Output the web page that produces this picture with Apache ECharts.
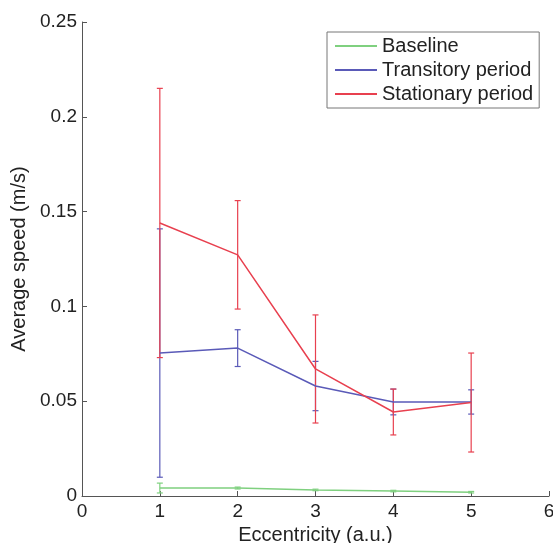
<!DOCTYPE html>
<html><head><meta charset="utf-8">
<script src="https://cdn.jsdelivr.net/npm/echarts@6/dist/echarts.min.js"></script>
<style>html,body{margin:0;padding:0;background:#fff}#c{width:553px;height:543px}</style>
</head><body><div id="c"></div>
<script>
const eccentricity = [1, 2, 3, 4, 5];
const baselineMean = [0.0042, 0.0042, 0.0032, 0.0026, 0.0020];
const baselineErr  = [0.0026, 0.0005, 0.0004, 0.0004, 0.0004];
const transitoryMean = [0.0754, 0.0780, 0.0580, 0.0496, 0.0496];
const transitoryErr  = [0.0655, 0.0097, 0.0130, 0.0068, 0.0064];
const stationaryMean = [0.1440, 0.1272, 0.0670, 0.0443, 0.0493];
const stationaryErr  = [0.0710, 0.0286, 0.0285, 0.0121, 0.0261];
const xTicks = [0, 1, 2, 3, 4, 5, 6];
const yTicks = [0, 0.05, 0.1, 0.15, 0.2, 0.25];

const COLORS = { base: '#7fd07f', trans: '#5a5ab8', stat: '#e8404f' };
const font = 'Liberation Sans, Arial, Helvetica, sans-serif';

function lineData(mean) { return eccentricity.map((x, i) => [x, mean[i]]); }
function errData(mean, err) { return eccentricity.map((x, i) => [x, mean[i] - err[i], mean[i] + err[i]]); }

function errSeries(name, mean, err, color) {
  return {
    type: 'custom', name: name + ' err', silent: true,
    data: errData(mean, err),
    encode: { x: 0, y: [1, 2] },
    renderItem: function (params, api) {
      const x = api.value(0);
      const lo = api.coord([x, api.value(1)]);
      const hi = api.coord([x, api.value(2)]);
      const hw = 3;
      const style = { stroke: color, lineWidth: 1.2, fill: null };
      return {
        type: 'group', children: [
          { type: 'line', shape: { x1: lo[0], y1: lo[1], x2: hi[0], y2: hi[1] }, style: style },
          { type: 'line', shape: { x1: lo[0] - hw, y1: lo[1], x2: lo[0] + hw, y2: lo[1] }, style: style },
          { type: 'line', shape: { x1: hi[0] - hw, y1: hi[1], x2: hi[0] + hw, y2: hi[1] }, style: style }
        ]
      };
    }
  };
}
function lineSeries(name, mean, color) {
  return {
    type: 'line', name: name, data: lineData(mean), symbol: 'none',
    lineStyle: { color: color, width: 1.5 }, itemStyle: { color: color }
  };
}

const chart = echarts.init(document.getElementById('c'));
chart.setOption({
  animation: false,
  backgroundColor: '#fff',
  grid: { left: 82, right: 4, top: 22, bottom: 47, containLabel: false, outerBoundsMode: 'none' },
  legend: {
    orient: 'vertical', left: 327, top: 32,
    data: [
      { name: 'Baseline', icon: 'rect' },
      { name: 'Transitory period', icon: 'rect' },
      { name: 'Stationary period', icon: 'rect' }
    ],
    itemWidth: 42, itemHeight: 2, itemGap: 2,
    padding: [3, 6, 3, 8],
    borderColor: '#777', borderWidth: 1,
    textStyle: { fontFamily: font, fontSize: 20, color: '#222', lineHeight: 22 }
  },
  xAxis: {
    type: 'value', min: xTicks[0], max: xTicks[xTicks.length - 1], interval: 1,
    name: 'Eccentricity (a.u.)', nameLocation: 'middle', nameGap: 27,
    nameTextStyle: { fontFamily: font, fontSize: 20, color: '#222' },
    axisLine: { show: true, lineStyle: { color: '#555', width: 1 } },
    axisTick: { show: true, inside: true, length: 5, lineStyle: { color: '#555' } },
    axisLabel: { fontFamily: font, fontSize: 19, color: '#222', margin: 6, showMaxLabel: true },
    splitLine: { show: false }
  },
  yAxis: {
    type: 'value', min: yTicks[0], max: yTicks[yTicks.length - 1], interval: 0.05,
    name: 'Average speed (m/s)', nameLocation: 'middle', nameGap: 52,
    nameTextStyle: { fontFamily: font, fontSize: 20, color: '#222' },
    axisLine: { show: true, lineStyle: { color: '#555', width: 1 } },
    axisTick: { show: true, inside: true, length: 5, lineStyle: { color: '#555' } },
    axisLabel: { fontFamily: font, fontSize: 19, color: '#222', margin: 5 },
    splitLine: { show: false }
  },
  series: [
    lineSeries('Baseline', baselineMean, COLORS.base),
    errSeries('Baseline', baselineMean, baselineErr, COLORS.base),
    lineSeries('Transitory period', transitoryMean, COLORS.trans),
    errSeries('Transitory period', transitoryMean, transitoryErr, COLORS.trans),
    lineSeries('Stationary period', stationaryMean, COLORS.stat),
    errSeries('Stationary period', stationaryMean, stationaryErr, COLORS.stat)
  ]
});
</script></body></html>
